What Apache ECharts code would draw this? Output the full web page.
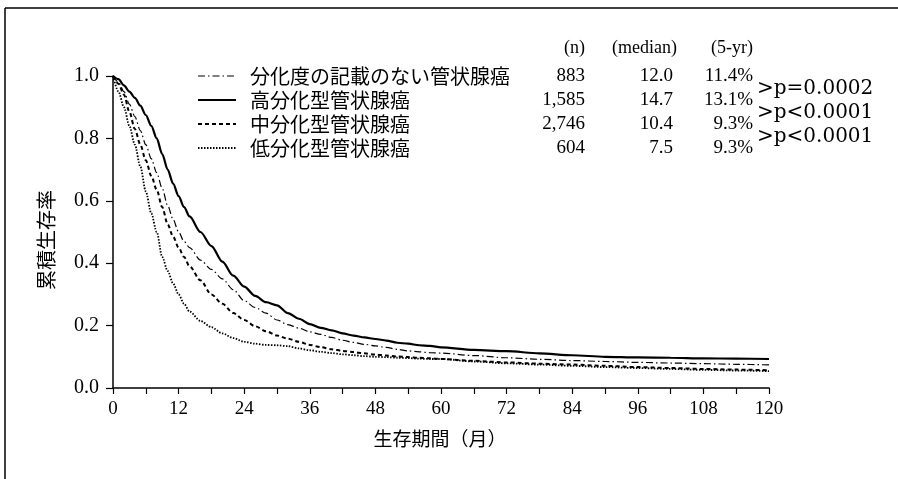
<!DOCTYPE html>
<html><head><meta charset="utf-8">
<script src="https://cdn.jsdelivr.net/npm/echarts@6/dist/echarts.min.js"></script>
<style>html,body{margin:0;padding:0;background:#fff}#c{width:898px;height:479px}</style>
</head><body><div id="c"></div>
<script>
// ---- data ----
const months = [0,1,2,3,4,5,6,7,8,9,10,11,12,13,14,16,18,20,22,24,26,28,30,32,34,36,38,40,42,44,46,48,50,52,54,56,58,60,66,72,78,84,90,96,102,108,114,120];
const survUnknown = [1.0,0.98,0.95,0.91,0.87,0.825,0.78,0.735,0.69,0.64,0.585,0.54,0.50,0.47,0.45,0.41,0.38,0.35,0.315,0.28,0.258,0.24,0.218,0.203,0.192,0.18,0.172,0.162,0.153,0.146,0.14,0.135,0.13,0.124,0.119,0.116,0.113,0.112,0.104,0.097,0.092,0.088,0.085,0.082,0.08,0.078,0.076,0.074];
const survWell = [1.0,0.99,0.97,0.95,0.93,0.905,0.875,0.84,0.80,0.75,0.70,0.655,0.615,0.58,0.55,0.50,0.455,0.405,0.36,0.325,0.295,0.275,0.265,0.24,0.222,0.205,0.193,0.185,0.175,0.168,0.162,0.157,0.152,0.145,0.142,0.137,0.135,0.130,0.122,0.118,0.111,0.105,0.100,0.098,0.097,0.095,0.094,0.093];
const survModerate = [1.0,0.975,0.94,0.885,0.83,0.78,0.73,0.68,0.635,0.58,0.525,0.485,0.45,0.42,0.39,0.345,0.30,0.27,0.24,0.218,0.198,0.182,0.168,0.158,0.148,0.138,0.131,0.124,0.119,0.115,0.111,0.107,0.104,0.101,0.099,0.097,0.095,0.093,0.087,0.082,0.078,0.075,0.071,0.067,0.064,0.061,0.059,0.057];
const survPoor = [1.0,0.95,0.90,0.84,0.78,0.71,0.63,0.56,0.50,0.42,0.375,0.335,0.30,0.27,0.245,0.215,0.195,0.175,0.16,0.148,0.142,0.138,0.137,0.134,0.127,0.121,0.116,0.112,0.108,0.105,0.102,0.10,0.099,0.097,0.096,0.094,0.093,0.093,0.085,0.079,0.075,0.071,0.067,0.064,0.061,0.058,0.056,0.054];

const seriesNames = ['分化度の記載のない管状腺癌','高分化型管状腺癌','中分化型管状腺癌','低分化型管状腺癌'];
const nValues = ['883','1,585','2,746','604'];
const medianValues = ['12.0','14.7','10.4','7.5'];
const fiveYrValues = ['11.4%','13.1%','9.3%','9.3%'];
const tableHeaders = ['(n)','(median)','(5-yr)'];
const pValues = ['>p=0.0002','>p<0.0001','>p<0.0001'];
const xTitle = '生存期間（月）';
const yTitle = '累積生存率';

const survSets = [survUnknown, survWell, survModerate, survPoor];
const lineStyles = [
  {type:[7,3,1.5,3], width:1.2},
  {type:'solid', width:2.2},
  {type:[4,3], width:2},
  {type:[1.5,1.5], width:1.8}
];

const chart = echarts.init(document.getElementById('c'));
const serif = '"Liberation Serif", "Times New Roman", serif';
const cjk = '"Noto Sans CJK JP", sans-serif';

const series = survSets.map((s, i) => ({
  name: seriesNames[i],
  type: 'line',
  data: months.map((m, j) => [m, s[j]]),
  symbol: 'none',
  smooth: 0.3,
  smoothMonotone: 'x',
  lineStyle: Object.assign({color:'#000'}, lineStyles[i]),
  itemStyle: {color:'#000'},
  emphasis: {disabled:true},
  z: 3
}));

const rowY = [76, 100, 124, 148];
const graphics = [];
// frame
graphics.push({type:'line', shape:{x1:5,y1:8,x2:898,y2:8}, style:{stroke:'#000', lineWidth:1.5}});
graphics.push({type:'line', shape:{x1:5,y1:8,x2:5,y2:479}, style:{stroke:'#000', lineWidth:1.5}});
// legend (line samples + labels)
seriesNames.forEach((nm, i) => {
  const ls = lineStyles[i];
  graphics.push({type:'line', shape:{x1:198, y1:rowY[i], x2:236, y2:rowY[i]},
    style:{stroke:'#000', lineWidth:ls.width, lineDash: Array.isArray(ls.type) ? ls.type : null}});
  graphics.push({type:'text', x:250, y:rowY[i],
    style:{text:nm, fill:'#000', font:'20px ' + cjk, textAlign:'left', textVerticalAlign:'middle'}});
});
// table headers
const colRight = [585, 677, 753];
tableHeaders.forEach((h, i) => graphics.push({type:'text', x:colRight[i], y:48,
  style:{text:h, fill:'#000', font:'18px ' + serif, textAlign:'right', textVerticalAlign:'middle'}}));
[nValues, medianValues, fiveYrValues].forEach((col, ci) => col.forEach((v, ri) => graphics.push({
  type:'text', x:ci === 1 ? 673 : colRight[ci], y:rowY[ri],
  style:{text:v, fill:'#000', font:'19px ' + serif, textAlign:'right', textVerticalAlign:'middle'}})));
pValues.forEach((p, i) => graphics.push({type:'text', x:757, y:(rowY[i] + rowY[i+1]) / 2 + 1,
  style:{text:p, fill:'#000', font:'20px "DejaVu Serif", ' + serif, textAlign:'left', textVerticalAlign:'middle'}}));
// axis titles
graphics.push({type:'text', x:440, y:439, style:{text:xTitle, fill:'#000', font:'19px ' + cjk, textAlign:'center', textVerticalAlign:'middle'}});
graphics.push({type:'text', x:46, y:240, rotation:Math.PI/2, style:{text:yTitle, fill:'#000', font:'20px ' + cjk, textAlign:'center', textVerticalAlign:'middle'}});

chart.setOption({
  animation: false,
  backgroundColor: '#fff',
  grid: {left:113, top:76, width:656, height:312, containLabel:false},
  xAxis: {
    type:'value', min:0, max:120, interval:6,
    axisLine:{lineStyle:{color:'#000', width:1.5}},
    axisTick:{length:6, lineStyle:{color:'#000', width:1.2}},
    axisLabel:{color:'#000', fontFamily:serif, fontSize:19, margin:12,
      formatter: v => (v % 12 === 0 ? String(v) : '')},
    splitLine:{show:false}
  },
  yAxis: {
    type:'value', min:0, max:1, interval:0.2,
    axisLine:{show:true, lineStyle:{color:'#000', width:1.5}},
    axisTick:{show:true, length:7, lineStyle:{color:'#000', width:1.2}},
    axisLabel:{color:'#000', fontFamily:serif, fontSize:20, margin:14, formatter: v => v.toFixed(1)},
    splitLine:{show:false}
  },
  graphic: graphics,
  series: series
});
</script></body></html>
